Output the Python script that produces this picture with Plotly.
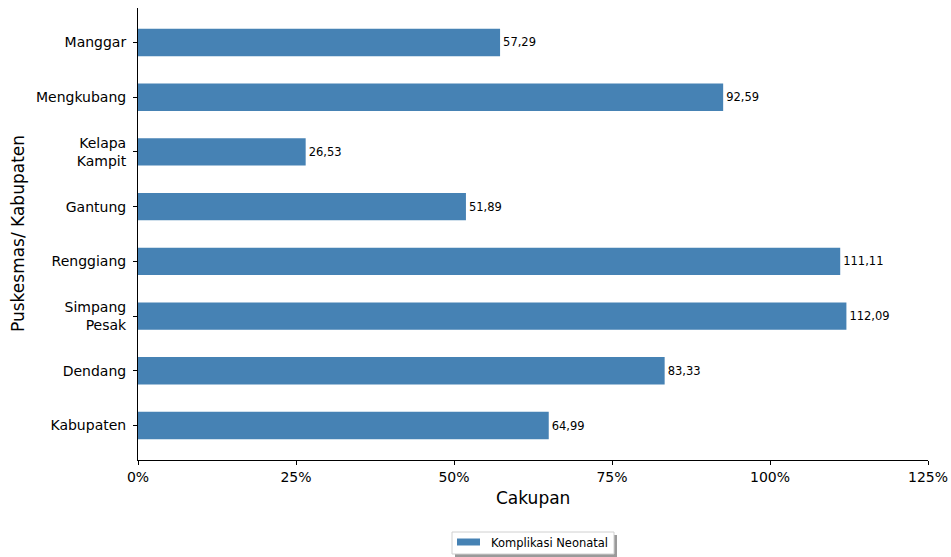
import plotly.graph_objects as go

categories = ["Manggar", "Mengkubang", "Kelapa<br>Kampit", "Gantung", "Renggiang",
              "Simpang<br>Pesak", "Dendang", "Kabupaten"]
values = [57.29, 92.59, 26.53, 51.89, 111.11, 112.09, 83.33, 64.99]
value_labels = ["57,29", "92,59", "26,53", "51,89", "111,11", "112,09", "83,33", "64,99"]
x_ticks = [0, 25, 50, 75, 100, 125]
x_tick_labels = ["0%", "25%", "50%", "75%", "100%", "125%"]
series_name = "Komplikasi Neonatal"
bar_color = "#4682b4"

W, H = 951, 557
L, R, T, B = 138, 23, 8, 97
pw, ph = W - L - R, H - T - B
font = "DejaVu Sans"


def px_x(p):
    return (p - L) / pw


def px_y(p):
    return (H - B - p) / ph


fig = go.Figure()
fig.add_trace(go.Bar(
    y=categories, x=values, orientation="h", name=series_name,
    marker=dict(color=bar_color, line=dict(width=0)),
    width=0.5,
    text=value_labels, textposition="outside", cliponaxis=False,
    textfont=dict(size=11.5, color="black", family=font),
    showlegend=False,
))

# matplotlib-style legend with shadow
shapes = [
    dict(type="rect", xref="paper", yref="paper",
         x0=px_x(455), x1=px_x(617), y0=px_y(535), y1=px_y(557),
         fillcolor="#9a9a9a", line=dict(width=0), layer="above"),
    dict(type="rect", xref="paper", yref="paper",
         x0=px_x(452), x1=px_x(614), y0=px_y(532), y1=px_y(554),
         fillcolor="white", line=dict(width=1, color="#d0d0d0"), layer="above"),
    dict(type="rect", xref="paper", yref="paper",
         x0=px_x(457), x1=px_x(480), y0=px_y(538.5), y1=px_y(545.5),
         fillcolor=bar_color, line=dict(width=0), layer="above"),
]
annotations = [
    dict(text=series_name, xref="paper", yref="paper", x=px_x(489), y=px_y(543),
         xanchor="left", yanchor="middle", showarrow=False,
         font=dict(size=11.5, family=font, color="black")),
    dict(text="Cakupan", xref="paper", yref="paper", x=0.5, y=px_y(498),
         xanchor="center", yanchor="middle", showarrow=False,
         font=dict(size=17, family=font, color="black")),
    dict(text="Puskesmas/ Kabupaten", xref="paper", yref="paper", x=px_x(18), y=0.5,
         xanchor="center", yanchor="middle", showarrow=False, textangle=-90,
         font=dict(size=17, family=font, color="black")),
]

fig.update_layout(
    width=W, height=H,
    margin=dict(l=L, r=R, t=T, b=B, autoexpand=False),
    paper_bgcolor="white", plot_bgcolor="white",
    font=dict(family=font, color="black"),
    showlegend=False,
    shapes=shapes, annotations=annotations,
    xaxis=dict(
        range=[0, 125], tickvals=x_ticks, ticktext=x_tick_labels, automargin=False,
        showgrid=False, zeroline=False, showline=True, linecolor="black", linewidth=1,
        ticks="outside", ticklen=4, tickcolor="black", tickfont=dict(size=14, family=font),
    ),
    yaxis=dict(
        type="category", range=[7.63, -0.63], automargin=False,
        showgrid=False, zeroline=False, showline=True, linecolor="black", linewidth=1,
        ticks="outside", ticklen=4, tickcolor="black", tickfont=dict(size=14, family=font),
        ticklabelstandoff=4,
    ),
)

fig.write_html("out.html", post_script="document.body.style.margin='0';",
               config={"displayModeBar": False})
